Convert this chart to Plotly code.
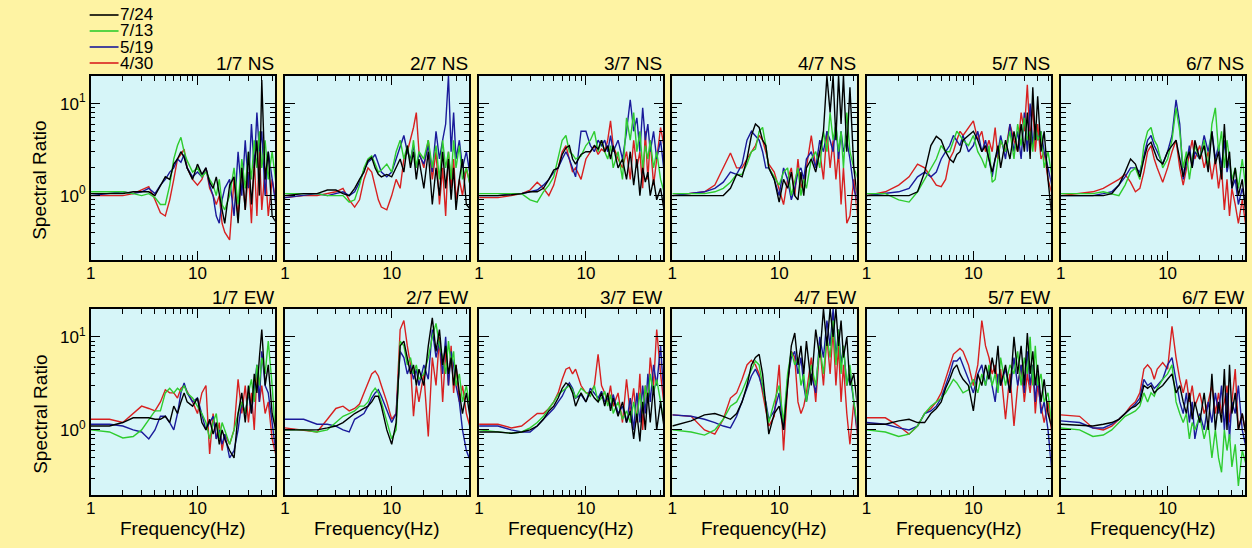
import plotly.graph_objects as go

# ---------------- data ----------------
freq = [1, 1.5, 2, 2.5, 3, 3.5, 4, 4.5, 5, 5.5,
        6, 6.5, 7, 7.5, 8, 9, 10, 11, 12, 13,
        14, 15, 16, 17, 18, 20, 22, 24, 26, 28,
        30, 32, 34, 36, 38, 40, 43, 46, 50, 55]

series_names = ["7/24", "7/13", "5/19", "4/30"]
panel_titles = ["1/7 NS", "2/7 NS", "3/7 NS", "4/7 NS", "5/7 NS", "6/7 NS",
                "1/7 EW", "2/7 EW", "3/7 EW", "4/7 EW", "5/7 EW", "6/7 EW"]
x_ticks = [1, 10]
x_ticktext = ["1", "10"]
y_ticks = [1, 10]
y_ticktext = ["10<sup>0</sup>", "10<sup>1</sup>"]

# ---- 1/7 NS ----
ns1_0724 = [1.05,1.05,1.05,1.1,1.1,1.1,1.0,1.3,1.6,1.5, 2.2,2.5,3.0,2.6,2.0,1.5,2.2,1.7,2.0,1.4, 1.2,1.6,1.0,0.7,0.5,1.3,1.6,0.5,2.0,0.7, 3.0,0.8,2.0,4.0,1.0,18,1.5,3.0,0.6,0.5]
ns1_0713 = [1.1,1.1,1.1,1.05,1.0,1.05,0.95,0.8,0.8,1.3, 2.5,3.5,4.3,3.0,2.4,1.8,2.0,1.6,1.8,1.5, 1.3,1.0,1.5,0.8,0.7,1.0,2.0,0.8,2.5,1.2, 3.0,1.5,4.0,2.0,5.0,2.0,4.0,1.5,3.0,1.2]
ns1_0519 = [1.0,1.05,1.1,1.05,1.1,1.2,1.05,1.3,1.5,1.8, 2.0,2.5,2.3,2.8,2.0,1.6,1.8,1.6,2.0,1.3, 1.0,0.6,0.5,0.9,1.2,1.5,0.6,3.0,1.0,4.0, 1.2,6.0,2.0,8.0,3.0,5.0,1.0,3.0,1.5,0.7]
ns1_0430 = [1.0,1.0,1.0,1.05,1.15,1.25,0.9,0.65,0.6,0.9, 1.5,2.5,2.8,3.2,2.0,1.5,1.3,1.5,2.0,1.2, 1.0,0.8,1.0,0.5,0.4,0.33,1.5,0.6,2.0,0.7, 1.8,0.5,2.5,0.6,3.0,0.7,2.0,0.6,1.5,0.8]
# ---- 2/7 NS ----
ns2_0724 = [1.0,1.05,1.05,1.15,1.15,1.05,1.0,1.2,1.5,1.8, 2.4,2.6,2.0,1.7,1.6,1.7,1.6,2.0,2.5,1.8, 3.5,2.0,3.0,1.5,2.5,1.2,3.0,0.8,2.0,1.0, 3.0,1.2,2.5,0.9,2.0,0.7,1.5,2.5,0.8,0.7]
ns2_0713 = [1.05,1.05,1.05,1.0,1.0,1.0,0.85,0.9,1.3,2.0, 2.5,2.7,2.2,1.8,1.9,2.2,1.8,3.0,4.0,2.5, 3.5,2.2,4.0,2.0,3.0,2.5,4.0,2.0,3.5,1.5, 4.0,2.0,3.0,1.5,4.0,2.0,3.5,1.5,2.0,1.2]
ns2_0519 = [0.95,1.0,1.05,1.0,1.05,1.1,1.0,1.1,1.4,1.9, 2.3,2.5,2.8,2.2,1.8,1.6,1.8,2.5,3.5,4.5, 3.0,2.5,3.5,2.0,2.8,2.2,3.5,1.8,5.0,2.5, 4.0,6.0,20,3.0,8.0,2.5,4.0,2.0,3.0,1.5]
ns2_0430 = [0.95,1.0,1.0,1.05,1.1,1.2,0.9,0.75,0.9,1.5, 2.0,1.8,1.3,0.9,0.75,0.7,1.0,1.5,1.2,2.5, 3.0,4.0,5.5,8.0,3.0,2.0,4.0,1.5,3.0,0.8, 2.0,0.6,3.0,1.2,2.5,0.9,1.5,1.0,2.0,1.2]
# ---- 3/7 NS ----
ns3_0724 = [1.0,1.0,1.02,1.05,1.1,1.1,1.2,1.5,1.9,2.0, 2.8,3.3,3.5,2.5,2.2,2.8,3.0,3.0,3.5,3.2, 4.0,3.0,3.5,2.5,3.5,2.0,2.5,1.5,3.0,1.3, 2.5,1.0,2.0,1.4,1.8,1.0,1.5,0.9,1.2,0.6]
ns3_0713 = [1.05,1.05,1.05,1.05,0.9,0.85,1.1,1.3,1.6,2.5, 4.0,4.5,3.0,2.8,2.5,2.7,3.5,4.0,5.0,3.0, 4.0,3.0,2.5,3.5,2.0,3.0,1.5,7.0,4.0,8.0, 3.0,5.0,2.0,3.5,2.5,4.0,2.0,3.0,1.5,1.0]
ns3_0519 = [1.0,1.0,1.05,1.05,1.1,1.15,1.3,1.5,1.8,2.0, 2.5,3.0,2.5,2.0,1.6,5.0,5.0,3.5,3.0,4.0, 3.5,4.0,3.0,4.5,3.0,4.0,2.5,5.0,11,5.0, 7.0,3.0,9.0,4.0,6.0,3.0,5.0,2.5,4.0,1.5]
ns3_0430 = [0.95,0.95,1.0,1.05,1.15,1.4,1.2,1.0,1.3,2.0, 3.0,3.5,2.5,1.8,2.0,1.5,2.5,3.0,3.5,2.8, 3.2,3.0,4.0,6.5,3.5,2.5,2.0,3.0,1.5,4.0, 2.0,3.0,1.2,5.0,1.5,4.0,1.3,2.5,5.5,3.0]
# ---- 4/7 NS ----
ns4_0724 = [1.0,1.0,1.0,1.0,1.0,1.2,1.7,1.6,2.5,4.5, 6.0,5.5,4.0,3.5,2.0,1.5,0.85,1.5,1.2,1.8, 1.0,0.9,1.8,1.0,2.0,2.5,1.8,3.0,5.0,20, 8.0,20,4.0,20,6.0,20,3.0,15,2.0,0.8]
ns4_0713 = [1.05,1.05,1.05,1.1,1.2,1.4,1.7,1.7,2.2,3.0, 3.2,5.0,5.5,3.5,2.0,1.6,1.3,1.8,2.0,1.0, 1.5,2.0,1.0,1.5,1.2,2.5,3.0,2.0,5.0,3.0, 8.0,4.0,6.0,3.0,5.0,2.0,8.0,3.0,2.0,1.5]
ns4_0519 = [1.0,1.05,1.1,1.2,1.4,1.8,1.7,2.2,4.0,5.0, 4.5,4.0,3.0,2.0,2.0,1.5,1.0,2.0,1.5,0.9, 1.2,1.8,2.0,1.5,2.5,3.0,2.0,4.0,3.0,5.0, 4.0,3.0,6.0,2.5,5.0,3.0,4.0,2.5,1.2,0.8]
ns4_0430 = [1.0,1.05,1.1,1.3,2.0,2.9,2.0,2.0,2.5,3.0, 3.5,4.5,4.0,3.0,2.2,1.8,1.2,0.8,1.5,2.0, 1.0,2.5,1.2,1.5,2.0,4.5,2.0,3.0,1.5,5.0, 2.0,4.0,1.5,3.0,0.8,2.0,0.5,0.6,1.5,0.5]
# ---- 5/7 NS ----
ns5_0724 = [1.0,1.0,1.0,1.0,1.1,1.8,3.5,4.4,4.0,3.0, 2.5,2.3,2.8,3.0,4.0,4.5,5.0,4.0,3.0,3.5, 2.5,1.8,2.5,3.5,2.0,4.0,2.5,5.0,3.0,6.0, 3.0,8.0,2.5,15,4.0,12,3.0,5.0,1.5,0.5]
ns5_0713 = [1.05,1.05,0.9,0.85,1.1,1.5,2.0,2.5,3.5,3.0, 3.0,4.0,5.0,4.5,4.0,3.5,4.5,3.0,2.5,2.0, 3.5,1.4,1.5,2.5,4.0,3.0,5.0,2.5,6.0,3.5, 7.0,4.0,5.0,3.0,6.0,4.0,5.0,2.0,3.0,1.5]
ns5_0519 = [1.0,1.05,1.1,1.2,1.6,1.8,1.6,1.8,2.5,3.0, 3.5,4.5,4.0,3.5,4.5,3.0,3.5,5.0,3.0,4.0, 2.5,1.6,2.5,3.0,4.5,2.5,6.0,3.0,5.0,2.5, 8.0,3.0,10,3.5,6.0,4.0,5.0,3.0,2.0,1.2]
ns5_0430 = [1.0,1.1,1.3,1.6,2.2,2.0,1.6,1.3,1.25,1.5, 2.5,3.0,4.0,5.0,4.5,5.5,6.5,4.0,5.0,3.0, 4.0,3.0,5.5,2.5,4.0,3.0,6.0,4.0,3.0,8.0, 5.0,16,4.0,10,3.0,6.0,2.5,3.0,1.5,1.0]
# ---- 6/7 NS ----
ns6_0724 = [1.0,1.0,1.0,1.0,1.05,1.3,1.8,2.5,2.2,1.6, 2.5,3.5,3.8,3.0,2.5,2.2,3.0,3.5,4.0,2.5, 1.6,2.5,3.0,2.0,4.0,2.5,3.5,1.8,5.0,2.2, 3.0,1.5,6.0,2.0,3.0,1.2,2.0,1.0,1.5,0.5]
ns6_0713 = [1.05,1.05,1.05,1.1,1.05,1.0,1.3,1.8,2.0,1.5, 3.5,5.0,5.5,4.0,3.5,2.0,2.5,4.0,9.0,5.0, 2.0,3.0,1.5,2.5,3.5,2.5,4.0,2.0,6.0,9.0, 3.0,5.0,2.0,4.0,2.5,1.5,2.0,1.2,2.5,1.0]
ns6_0519 = [1.0,1.0,1.0,1.05,1.1,1.3,1.6,2.0,2.0,1.8, 2.8,4.0,4.5,3.5,3.0,2.2,3.0,4.5,11,6.0, 1.5,2.2,3.5,2.0,3.0,2.5,4.5,3.0,5.0,2.5, 3.5,2.0,4.0,1.8,2.5,1.2,1.5,0.8,1.2,0.7]
ns6_0430 = [1.0,1.05,1.1,1.2,1.35,1.5,1.7,1.4,1.1,1.2, 1.8,3.0,3.5,2.5,2.0,1.4,2.0,3.0,4.0,2.0, 1.3,2.0,3.0,4.0,2.5,3.5,2.0,3.0,1.5,2.5, 1.2,2.0,0.7,1.5,0.6,1.2,0.8,0.5,0.9,0.4]
# ---- 1/7 EW ----
ew1_0724 = [1.1,1.1,1.2,1.35,1.35,1.35,1.3,1.3,1.4,1.2, 1.8,1.5,2.0,2.5,2.0,1.8,2.2,1.2,1.0,1.3, 0.9,1.2,0.7,1.0,0.8,0.6,0.5,1.5,2.5,1.2, 3.0,1.5,4.0,2.5,6.0,12,3.0,5.0,1.5,0.9]
ew1_0713 = [1.0,0.95,0.82,0.85,1.0,1.3,1.6,1.6,2.5,2.8, 2.5,2.8,2.6,3.0,2.5,2.2,1.8,1.5,1.2,0.8, 1.2,1.5,0.8,1.2,1.0,0.7,1.0,1.5,2.0,1.5, 2.5,3.5,2.0,5.0,3.0,6.0,4.0,9.0,3.0,0.6]
ew1_0519 = [1.15,1.15,1.1,1.0,0.95,0.8,1.0,1.4,1.4,1.2, 1.0,1.5,2.5,3.2,2.5,2.0,2.2,1.5,1.0,1.2, 1.4,0.8,1.0,0.7,0.9,0.5,0.6,1.0,2.0,1.5, 2.5,1.5,3.0,5.0,2.0,7.0,3.0,2.5,1.2,0.5]
ew1_0430 = [1.3,1.3,1.2,1.5,1.8,1.7,1.6,2.0,2.7,2.5, 2.5,2.2,2.8,3.0,2.6,2.0,1.5,2.5,3.0,0.55, 1.5,0.8,1.2,0.6,0.9,0.7,1.0,3.5,1.5,3.0, 1.2,2.5,1.0,4.0,2.0,3.0,1.5,2.0,0.8,0.5]
# ---- 2/7 EW ----
ew2_0724 = [1.0,1.0,1.0,1.05,1.1,1.2,1.35,1.5,1.6,1.7, 1.8,2.0,2.3,2.3,1.8,1.0,0.7,1.2,8.0,9.0, 6.0,4.0,5.0,3.0,4.5,3.0,8.0,16,7.0,12, 5.0,8.0,4.0,6.0,3.0,5.0,2.5,1.5,2.5,1.2]
ew2_0713 = [1.0,1.0,0.95,1.0,1.2,1.4,1.5,1.6,1.8,1.8, 2.0,2.5,2.8,2.5,2.0,1.2,0.8,1.0,9.0,8.0, 5.0,6.0,4.0,5.0,3.5,4.0,6.0,10,14,8.0, 6.0,4.0,9.0,5.0,7.0,3.0,4.0,2.0,3.0,1.5]
ew2_0519 = [1.3,1.3,1.15,1.15,1.1,1.0,0.95,1.3,1.4,1.5, 1.8,2.2,2.5,2.7,2.3,1.6,1.2,1.5,7.0,6.0, 4.0,5.0,3.5,4.5,3.0,5.0,3.5,12,6.0,9.0, 4.0,10,3.0,7.0,5.0,3.0,2.0,1.0,0.6,0.45]
ew2_0430 = [1.05,1.0,0.95,1.3,1.7,1.8,1.6,1.7,1.9,2.5, 3.2,4.0,4.3,3.8,3.0,2.0,1.3,1.5,12,15, 8.0,5.0,1.4,3.0,2.0,4.0,0.85,6.0,3.0,10, 2.0,7.0,3.0,8.0,2.5,5.0,2.0,3.0,1.5,1.0]
# ---- 3/7 EW ----
ew3_0724 = [0.95,0.95,0.92,0.95,1.0,1.1,1.3,1.6,1.8,2.2, 2.8,3.2,3.0,2.5,1.8,2.5,2.0,2.6,2.2,2.0, 2.5,1.8,2.5,1.6,2.2,1.4,2.0,1.2,1.6,0.8, 1.5,0.75,2.0,1.0,2.5,1.2,3.0,1.0,2.0,0.9]
ew3_0713 = [1.0,0.95,0.92,0.95,1.05,1.2,1.4,1.7,2.0,2.4, 2.6,2.8,3.0,2.7,2.2,2.8,2.5,2.3,3.0,2.0, 2.2,2.6,1.8,2.4,1.5,2.0,1.3,1.6,1.2,2.0, 1.3,2.5,1.5,3.0,2.0,4.0,2.5,3.5,2.0,1.0]
ew3_0519 = [1.1,1.1,1.0,0.95,0.95,1.1,1.3,1.5,1.7,2.0, 2.3,2.8,3.2,2.8,2.2,2.4,2.0,2.8,2.5,2.2, 2.6,2.0,2.2,1.8,2.4,1.5,1.8,1.2,2.2,1.0, 2.5,1.2,3.0,1.5,4.0,2.0,5.0,3.0,8.0,1.5]
ew3_0430 = [1.15,1.15,1.05,1.1,1.3,1.5,1.5,1.7,2.0,2.5, 3.5,4.5,4.7,4.0,4.5,3.0,2.5,2.5,3.0,6.5, 3.0,2.5,2.0,3.0,1.8,2.5,1.2,3.5,1.5,2.8, 1.2,4.0,1.0,3.0,2.0,6.0,3.0,12,4.0,1.5]
# ---- 4/7 EW ----
ew4_0724 = [1.1,1.25,1.45,1.5,1.4,1.3,1.5,2.0,3.0,5.0, 6.0,6.5,4.0,2.0,0.9,1.5,1.8,1.0,3.0,8.0, 11,5.0,8.0,4.0,9.0,3.0,12,6.0,20,8.0, 20,10,20,8.0,15,6.0,10,3.0,4.0,1.5]
ew4_0713 = [1.0,0.95,0.88,1.0,1.3,1.8,2.0,2.6,3.5,4.5, 5.5,5.0,3.0,2.0,1.2,2.0,3.0,1.2,4.0,7.0, 5.0,6.0,3.0,4.0,2.0,5.0,3.0,8.0,4.0,10, 6.0,15,5.0,12,4.0,8.0,3.0,5.0,2.0,1.0]
ew4_0519 = [1.45,1.4,1.3,1.2,1.1,1.05,1.4,2.0,2.8,3.8, 4.5,3.7,2.8,2.0,1.3,1.6,2.5,1.0,3.5,6.0, 7.0,4.0,6.0,3.0,2.0,4.0,2.5,10,6.0,15, 8.0,20,6.0,12,5.0,8.0,3.0,4.0,2.0,0.8]
ew4_0430 = [1.45,1.4,1.0,0.9,1.3,2.2,2.5,3.5,5.0,5.6, 5.0,4.0,2.5,1.6,1.1,1.4,5.0,0.6,3.0,7.0, 6.0,2.0,1.5,1.8,2.5,6.0,2.0,8.0,3.0,10, 4.0,12,3.0,8.0,2.0,5.0,1.5,0.7,2.0,0.7]
# ---- 5/7 EW ----
ew5_0724 = [1.15,1.15,1.25,1.3,1.2,1.2,1.5,1.7,2.0,2.8, 3.5,4.5,5.0,4.0,3.5,3.0,1.6,4.0,3.0,5.0, 3.5,6.0,4.0,8.0,3.0,5.0,2.5,10,4.0,8.0, 3.0,11,4.0,7.0,3.0,5.0,2.0,3.5,1.5,1.0]
ew5_0713 = [1.0,0.95,0.85,0.9,1.1,1.5,1.8,2.0,2.2,2.5, 3.0,3.5,3.2,2.8,2.5,2.7,3.5,2.5,4.0,3.0, 5.0,3.0,4.0,2.5,6.0,3.0,5.0,4.0,7.0,3.0, 6.0,4.0,10,3.0,8.0,3.0,4.0,2.0,2.5,1.0]
ew5_0519 = [1.2,1.15,1.05,1.0,1.1,1.5,1.6,1.8,2.2,3.0, 4.0,5.5,5.5,6.0,5.0,3.5,2.5,4.0,5.0,3.0, 4.5,3.0,2.0,4.0,3.0,4.5,2.5,6.0,3.0,5.0, 2.5,7.0,3.0,5.0,2.0,4.0,1.5,2.0,1.0,0.3]
ew5_0430 = [1.35,1.35,1.1,0.9,1.1,1.5,1.7,2.0,2.5,3.5, 5.0,6.5,7.0,7.5,7.0,5.0,3.0,5.0,15,8.0, 6.0,4.0,5.0,3.0,4.5,1.3,4.0,1.1,3.0,5.0, 2.0,4.0,2.5,5.0,1.5,3.0,1.8,1.2,2.0,0.8]
# ---- 6/7 EW ----
ew6_0724 = [1.15,1.12,1.1,1.15,1.2,1.3,1.5,1.7,1.8,2.0, 3.0,2.8,3.0,2.5,2.7,3.0,3.5,4.0,2.5,3.0, 2.0,1.5,2.5,1.3,2.0,1.2,2.5,1.0,4.0,1.0, 2.0,1.2,4.5,1.0,5.0,1.5,2.5,1.0,1.5,0.8]
ew6_0713 = [1.05,1.0,0.85,0.88,1.0,1.2,1.4,1.5,1.6,1.8, 2.5,2.0,2.5,2.3,2.8,3.5,4.0,5.0,2.0,1.5, 1.2,1.5,0.8,1.2,1.0,1.4,0.8,1.2,0.5,1.0, 0.5,0.35,1.0,0.6,0.9,0.4,0.7,0.25,0.6,0.4]
ew6_0519 = [1.25,1.2,1.05,1.05,1.15,1.3,1.5,1.7,1.9,2.2, 3.5,3.0,3.2,2.8,3.0,3.5,5.0,6.0,3.5,2.0, 1.5,2.5,1.2,2.0,0.8,1.5,1.0,2.0,1.2,2.5, 1.5,3.0,1.0,2.5,0.8,2.0,1.5,3.0,1.0,0.6]
ew6_0430 = [1.45,1.4,1.05,1.0,1.1,1.3,1.5,1.8,2.0,2.5, 4.5,5.0,4.5,3.5,4.5,5.3,4.5,13,6.0,3.5, 2.5,3.5,2.0,3.0,1.8,2.5,1.5,2.0,3.0,1.5, 2.5,1.5,2.0,3.0,1.2,2.0,4.5,1.0,1.5,0.8]

panel_data = [
    [ns1_0724, ns1_0713, ns1_0519, ns1_0430],
    [ns2_0724, ns2_0713, ns2_0519, ns2_0430],
    [ns3_0724, ns3_0713, ns3_0519, ns3_0430],
    [ns4_0724, ns4_0713, ns4_0519, ns4_0430],
    [ns5_0724, ns5_0713, ns5_0519, ns5_0430],
    [ns6_0724, ns6_0713, ns6_0519, ns6_0430],
    [ew1_0724, ew1_0713, ew1_0519, ew1_0430],
    [ew2_0724, ew2_0713, ew2_0519, ew2_0430],
    [ew3_0724, ew3_0713, ew3_0519, ew3_0430],
    [ew4_0724, ew4_0713, ew4_0519, ew4_0430],
    [ew5_0724, ew5_0713, ew5_0519, ew5_0430],
    [ew6_0724, ew6_0713, ew6_0519, ew6_0430],
]

# ---------------- style ----------------
W, H = 1252, 548
colors = ["#000000", "#2ECC2E", "#1A1A9A", "#D82020"]
paper_bg = "#FEF3A3"
plot_bg = "#D6F5F8"
FONT = "Liberation Sans, Arial, Helvetica, sans-serif"

col_left = [86, 281, 476, 670, 865, 1060]
panel_w = 185
row_top = [76, 309]
row_bot = [260, 495]

def px_x(p):
    return p / W

def px_y(p):
    return 1 - p / H

fig = go.Figure()
draw_order = [3, 2, 1, 0]  # red under, black on top
for k in range(12):
    n = k + 1
    for s in draw_order:
        fig.add_trace(go.Scatter(
            x=freq, y=panel_data[k][s], mode="lines",
            line=dict(color=colors[s], width=1.4),
            name=series_names[s], showlegend=False,
            xaxis="x" if n == 1 else f"x{n}",
            yaxis="y" if n == 1 else f"y{n}",
            hoverinfo="skip"))

layout = dict(
    width=W, height=H, autosize=False,
    margin=dict(l=0, r=0, t=0, b=0),
    paper_bgcolor=paper_bg, plot_bgcolor=plot_bg,
    font=dict(family=FONT, color="black", size=17),
    showlegend=False,
)

x_minor = [2, 3, 4, 5, 6, 7, 8, 9, 20, 30, 40, 50]
y_minor = [0.2, 0.3, 0.4, 0.5, 0.6, 0.7, 0.8, 0.9, 2, 3, 4, 5, 6, 7, 8, 9]

annotations = []
for k in range(12):
    n = k + 1
    r, c = divmod(k, 6)
    L = col_left[c]
    R = L + panel_w
    xname = "xaxis" if n == 1 else f"xaxis{n}"
    yname = "yaxis" if n == 1 else f"yaxis{n}"
    layout[xname] = dict(
        domain=[px_x(L), px_x(R)], anchor="y" if n == 1 else f"y{n}",
        type="log", range=[0, 1.725],
        tickmode="array", tickvals=x_ticks, ticktext=x_ticktext,
        ticks="inside", ticklen=9, tickwidth=1.2, tickcolor="black",
        ticklabelstandoff=-3,
        showline=True, linecolor="black", linewidth=1.5, mirror="allticks",
        showgrid=False, zeroline=False,
        tickfont=dict(size=17, family=FONT, color="black"),
        minor=dict(tickmode="array", tickvals=x_minor, ticks="inside", ticklen=5,
                   tickwidth=1.2, tickcolor="black", showgrid=False),
        fixedrange=True,
    )
    layout[yname] = dict(
        domain=[px_y(row_bot[r]), px_y(row_top[r])], anchor="x" if n == 1 else f"x{n}",
        type="log", range=[-0.7, 1.3],
        tickmode="array", tickvals=y_ticks, ticktext=y_ticktext,
        showticklabels=(c == 0),
        ticks="inside", ticklen=10, tickwidth=1.2, tickcolor="black",
        showline=True, linecolor="black", linewidth=1.5, mirror="allticks",
        showgrid=False, zeroline=False,
        tickfont=dict(size=17, family=FONT, color="black"),
        minor=dict(tickmode="array", tickvals=y_minor, ticks="inside", ticklen=5,
                   tickwidth=1.2, tickcolor="black", showgrid=False),
        fixedrange=True,
    )
    # panel title (right aligned above panel)
    annotations.append(dict(
        text=panel_titles[k], xref="paper", yref="paper",
        x=px_x(R + 1), y=px_y(row_top[r] - 12), xanchor="right", yanchor="middle",
        showarrow=False, font=dict(size=19, family=FONT, color="black")))
    if r == 1:
        annotations.append(dict(
            text="Frequency(Hz)", xref="paper", yref="paper",
            x=px_x((L + R) / 2), y=px_y(528), xanchor="center", yanchor="middle",
            showarrow=False, font=dict(size=19, family=FONT, color="black")))
    if c == 0:
        annotations.append(dict(
            text="Spectral Ratio", xref="paper", yref="paper", textangle=-90,
            x=px_x(35), y=px_y((row_top[r] + row_bot[r]) / 2 + 12),
            xanchor="center", yanchor="middle",
            showarrow=False, font=dict(size=19, family=FONT, color="black")))

# legend drawn as key lines + labels (tightly stacked as in the reference)
shapes = []
legend_y = [15, 31, 47, 63]
for s in range(4):
    shapes.append(dict(type="line", xref="paper", yref="paper",
                       x0=px_x(85), x1=px_x(114), y0=px_y(legend_y[s]), y1=px_y(legend_y[s]),
                       line=dict(color=colors[s], width=1.6)))
    annotations.append(dict(
        text=series_names[s], xref="paper", yref="paper",
        x=px_x(114), y=px_y(legend_y[s]), xanchor="left", yanchor="middle",
        height=15, borderpad=0, valign="middle",
        showarrow=False, font=dict(size=17, family=FONT, color="black")))

layout["annotations"] = annotations
layout["shapes"] = shapes
fig.update_layout(**layout)

fig.write_html("out.html", config={"displayModeBar": False})
